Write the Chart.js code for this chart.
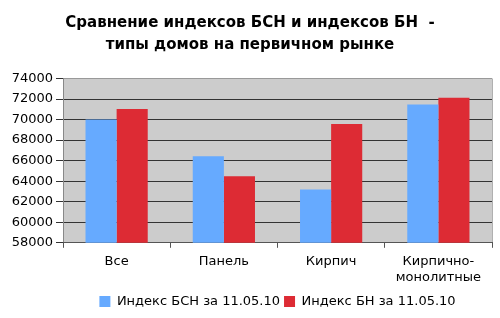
<!DOCTYPE html>
<html><head><meta charset="utf-8">
<script src="https://cdn.jsdelivr.net/npm/chart.js@4/dist/chart.umd.min.js"></script>
<style>html,body{margin:0;padding:0;background:#fff}#wrap{width:500px;height:318px}</style>
</head><body><div id="wrap"><canvas id="c" width="500" height="318"></canvas></div>
<script>
const categories = ["Все", "Панель", "Кирпич", ["Кирпично-", "монолитные"]];
const seriesNames = ["Индекс БСН за 11.05.10", "Индекс БН за 11.05.10"];
const bsnValues = [70000, 66420, 63180, 71480];
const bnValues = [71020, 64480, 69580, 72130];
const yTicks = [58000, 60000, 62000, 64000, 66000, 68000, 70000, 72000, 74000];
const titleLines = ["Сравнение индексов БСН и индексов БН  -", "типы домов на первичном рынке"];

const bgPlugin = {
  id: 'plotBg',
  beforeDraw(chart) {
    const a = chart.chartArea, ctx = chart.ctx;
    ctx.save(); ctx.fillStyle = '#cccccc';
    ctx.fillRect(a.left, a.top, a.right - a.left, a.bottom - a.top);
    ctx.strokeStyle = '#b0b0b0'; ctx.lineWidth = 1;
    ctx.beginPath(); ctx.moveTo(a.right + 0.5, a.top); ctx.lineTo(a.right + 0.5, a.bottom); ctx.stroke();
    ctx.restore();
  }
};
const font = 'DejaVu Sans, Verdana, sans-serif';
new Chart(document.getElementById('c'), {
  type: 'bar',
  data: {
    labels: categories,
    datasets: [
      { label: seriesNames[0], data: bsnValues, backgroundColor: '#66aaff', borderWidth: 0 },
      { label: seriesNames[1], data: bnValues, backgroundColor: '#dd2b34', borderWidth: 0 }
    ]
  },
  options: {
    responsive: false, animation: false,
    layout: { padding: { left: 8, right: 8, top: 0, bottom: 0 } },
    datasets: { bar: { categoryPercentage: 0.58, barPercentage: 1.0 } },
    plugins: {
      title: { display: true, text: titleLines, color: '#000', font: { family: font, size: 15, weight: 'bold', lineHeight: 1.45 }, padding: { top: 12, bottom: 23 } },
      legend: { position: 'bottom', fullSize: false, labels: { color: '#000', font: { family: font, size: 13 }, boxWidth: 11, boxHeight: 11, padding: 4 } },
      tooltip: { enabled: false }
    },
    scales: {
      y: {
        min: yTicks[0], max: yTicks[yTicks.length - 1],
        afterBuildTicks(s) { s.ticks = yTicks.map(v => ({ value: v })); },
        afterFit(s) { s.width = 55; },
        ticks: { color: '#000', font: { family: font, size: 13 }, padding: 3, callback: v => String(v) },
        grid: { color: ctx => ctx.tick && ctx.tick.value === yTicks[yTicks.length - 1] ? '#999999' : '#333333', tickColor: '#333333', tickLength: 7, lineWidth: 1 },
        border: { color: '#888888' }
      },
      x: {
        ticks: { color: '#000', font: { family: font, size: 13 }, padding: 6 },
        grid: { drawOnChartArea: false, tickLength: 5, color: '#555555', offset: true },
        border: { color: '#555555' }
      }
    }
  },
  plugins: [bgPlugin]
});
</script></body></html>
